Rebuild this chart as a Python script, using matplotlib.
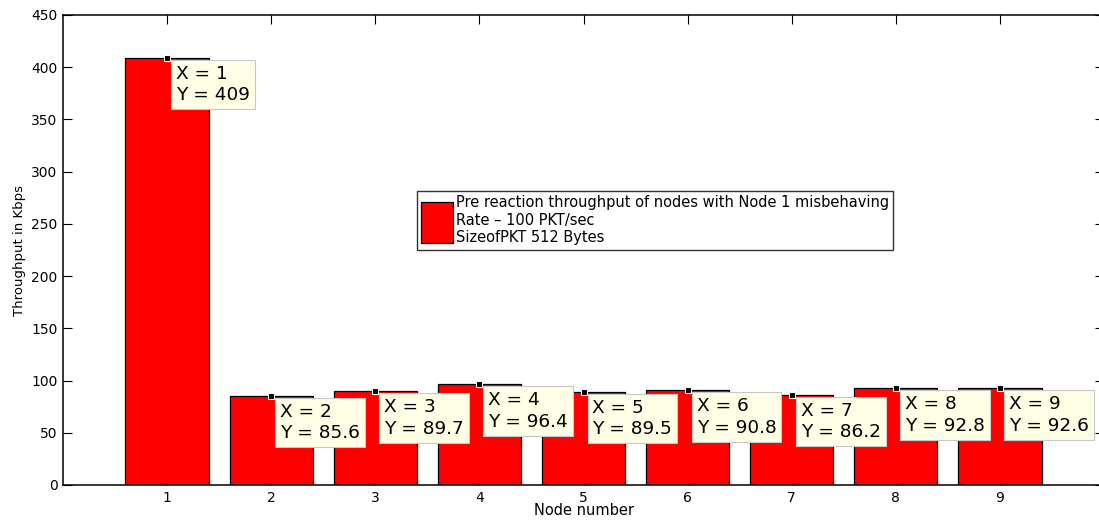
import matplotlib
matplotlib.use("Agg")
import matplotlib.pyplot as plt

# ========= DATOS =========
nodes = [1, 2, 3, 4, 5, 6, 7, 8, 9]
throughput = [409, 85.6, 89.7, 96.4, 89.5, 90.8, 86.2, 92.8, 92.6]
yticks = [0, 50, 100, 150, 200, 250, 300, 350, 400, 450]
legend_label = ("Pre reaction throughput of nodes with Node 1 misbehaving\n"
                "Rate \u2013 100 PKT/sec\n"
                "SizeofPKT 512 Bytes")

plt.rcParams['font.family'] = ['DejaVu Sans']

W, H = 1099, 521
fig = plt.figure(figsize=(W / 100, H / 100), dpi=100)
ax = fig.add_axes([63 / W, 36 / H, (1104 - 63) / W, 470 / H])

ax.bar(nodes, throughput, width=0.8, color='#ff0000',
       edgecolor='black', linewidth=0.9, label=legend_label, zorder=2)

ax.set_xlim(0, 10)
ax.set_ylim(0, 450)
ax.set_xticks(nodes)
ax.set_yticks(yticks)
ax.tick_params(direction='in', length=6.5, width=0.8, top=True, right=True,
               labelsize=10, pad=4)
for s in ax.spines.values():
    s.set_linewidth(1.1)

ax.set_xlabel("Node number", fontsize=10.5, labelpad=-1)
ax.set_ylabel("Throughput in Kbps", fontsize=9.5, labelpad=4)

# data tips estilo MATLAB
for x, y in zip(nodes, throughput):
    ax.plot([x], [y], marker='s', markersize=5, color='black',
            markeredgecolor='#ffffe1', markeredgewidth=0.8, zorder=5,
            clip_on=False)
    txt = f"X = {x}\nY = {y:g}"
    ax.annotate(txt, xy=(x, y), xytext=(9, -7), textcoords='offset pixels',
                ha='left', va='top', fontsize=13.3, linespacing=1.25, zorder=4,
                bbox=dict(boxstyle='square,pad=0.27', facecolor='#ffffe6',
                          edgecolor='#c8c8c8', linewidth=0.8))

leg = ax.legend(loc='upper left', bbox_to_anchor=(417 / W, 1 - 191 / H),
                bbox_transform=fig.transFigure, fontsize=10.5, frameon=True,
                fancybox=False, borderaxespad=0, handlelength=2.2,
                handleheight=3.9, handletextpad=0.15, borderpad=0.3,
                labelspacing=0)
leg.get_frame().set_edgecolor('black')
leg.get_frame().set_linewidth(1.0)
leg.set_zorder(6)

fig.savefig("out.png", dpi=100)
